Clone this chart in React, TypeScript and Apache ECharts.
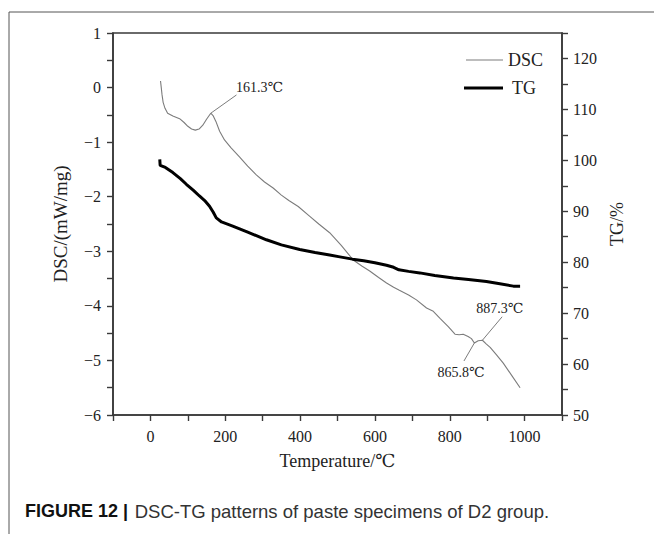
import React, { useEffect, useRef } from "react";
import * as echarts from "echarts";

// DSC curve (temperature ℃, mW/mg)
const dscTemp = [27, 29, 31, 34, 39, 46, 60, 78, 90, 100, 110, 120, 130, 140, 150, 161.3, 168, 175, 185, 198, 215, 238, 260, 283, 305, 328, 350, 370, 395, 426, 450, 479, 510, 542, 565, 586, 610, 631, 650, 664, 690, 711, 738, 756, 774, 796, 814, 825, 836, 849, 858, 865.8, 876, 887.3, 898, 908, 925, 943, 965, 988];
const dscValues = [0.12, 0.0, -0.13, -0.27, -0.38, -0.47, -0.52, -0.57, -0.64, -0.71, -0.76, -0.78, -0.76, -0.69, -0.58, -0.47, -0.52, -0.62, -0.8, -0.96, -1.1, -1.27, -1.44, -1.6, -1.73, -1.84, -1.97, -2.07, -2.18, -2.36, -2.5, -2.66, -2.89, -3.16, -3.27, -3.36, -3.48, -3.58, -3.66, -3.71, -3.8, -3.89, -4.04, -4.1, -4.23, -4.38, -4.52, -4.53, -4.52, -4.56, -4.6, -4.68, -4.64, -4.63, -4.7, -4.76, -4.9, -5.05, -5.27, -5.5];

// TG curve (temperature ℃, %)
const tgTemp = [25, 26, 40, 60, 80, 96, 115, 131, 145, 158, 168, 176, 190, 220, 260, 310, 350, 399, 440, 479, 510, 540, 570, 600, 631, 650, 664, 690, 720, 760, 810, 850, 898, 930, 970, 988];
const tgValues = [100.2, 99.0, 98.6, 97.6, 96.4, 95.3, 94.1, 93.0, 92.1, 91.0, 89.8, 88.7, 87.9, 87.1, 85.9, 84.4, 83.4, 82.5, 81.9, 81.4, 81.0, 80.6, 80.3, 79.9, 79.4, 79.0, 78.5, 78.2, 77.9, 77.4, 76.9, 76.6, 76.2, 75.8, 75.3, 75.3];

// Peak annotations (data coordinates on the DSC axis)
const annotationLabels = ["161.3℃", "887.3℃", "865.8℃"];
const annotationPeaks = [[161.3, -0.47], [887.3, -4.63], [865.8, -4.68]];
const annotationLeaderEnds = [[230, -0.135], [940, -4.2], [838, -5.01]];
const annotationTextCentres = [[292, 0.0], [934, -4.05], [830, -5.23]];

const serif = "'Liberation Serif', 'Times New Roman', 'DejaVu Serif', serif";
const sans = "'Liberation Sans', Arial, sans-serif";

export default function App() {
  const ref = useRef<HTMLDivElement>(null);
  useEffect(() => {
    if (!ref.current) return;
    const chart = echarts.init(ref.current, undefined, { renderer: "svg" });
    const axisLine = { show: true, onZero: false, lineStyle: { color: "#3a3a3a", width: 1.6 } };
    const axisTick = { show: true, inside: false, length: 6, lineStyle: { color: "#3a3a3a", width: 1.4 } };
    const labelStyle = { fontFamily: serif, fontSize: 16, color: "#222" };
    const nameStyle = { fontFamily: serif, fontSize: 18, color: "#222" };

    chart.setOption({
      animation: false,
      grid: {
        left: 113,
        top: 33,
        right: 92,
        bottom: 119,
        show: true,
        borderColor: "#3a3a3a",
        borderWidth: 1.6,
      },
      xAxis: {
        type: "value",
        min: -100,
        max: 1100,
        interval: 100,
        name: "Temperature/℃",
        nameLocation: "middle",
        nameGap: 37,
        nameTextStyle: nameStyle,
        axisLine,
        axisTick,
        axisLabel: {
          ...labelStyle,
          margin: 13,
          formatter: (v: number) => (v >= 0 && v <= 1000 && v % 200 === 0 ? String(v) : ""),
        },
        splitLine: { show: false },
      },
      yAxis: [
        {
          type: "value",
          position: "left",
          min: -6,
          max: 1,
          interval: 0.5,
          name: "DSC/(mW/mg)",
          nameLocation: "middle",
          nameGap: 43,
          nameRotate: 90,
          nameTextStyle: { ...nameStyle, fontSize: 19 },
          axisLine,
          axisTick,
          axisLabel: {
            ...labelStyle,
            margin: 12,
            formatter: (v: number) =>
              Number.isInteger(v) ? (v < 0 ? "\u2212" + Math.abs(v) : String(v)) : "",
          },
          splitLine: { show: false },
        },
        {
          type: "value",
          position: "right",
          min: 50,
          max: 125,
          interval: 5,
          name: "TG/%",
          nameLocation: "middle",
          nameGap: 41,
          nameRotate: 90,
          nameTextStyle: nameStyle,
          axisLine,
          axisTick,
          axisLabel: {
            ...labelStyle,
            margin: 11,
            formatter: (v: number) => (v % 10 === 0 && v <= 120 ? String(v) : ""),
          },
          splitLine: { show: false },
        },
      ],
      series: [
        {
          name: "DSC",
          type: "line",
          yAxisIndex: 0,
          showSymbol: false,
          symbol: "none",
          data: dscTemp.map((t, i) => [t, dscValues[i]]),
          lineStyle: { color: "#7c7c7c", width: 1.1 },
          markLine: {
            silent: true,
            symbol: "none",
            label: { show: false },
            lineStyle: { color: "#7c7c7c", width: 1, type: "solid" },
            data: annotationPeaks.map((p, i) => [
              { coord: p },
              { coord: annotationLeaderEnds[i] },
            ]),
          },
          markPoint: {
            silent: true,
            symbol: "circle",
            symbolSize: 0,
            data: annotationTextCentres.map((c, i) => ({
              coord: c,
              label: {
                show: true,
                position: "inside",
                formatter: annotationLabels[i],
                fontFamily: serif,
                fontSize: 14,
                color: "#222",
              },
            })),
          },
        },
        {
          name: "TG",
          type: "line",
          yAxisIndex: 1,
          showSymbol: false,
          symbol: "none",
          data: tgTemp.map((t, i) => [t, tgValues[i]]),
          lineStyle: { color: "#000", width: 3 },
        },
      ],
      graphic: [
        // outer frame lines
        { type: "line", shape: { x1: 9, y1: 12, x2: 654, y2: 12 }, style: { stroke: "#555", lineWidth: 1 } },
        { type: "line", shape: { x1: 9, y1: 12, x2: 9, y2: 534 }, style: { stroke: "#555", lineWidth: 1 } },
        // legend
        { type: "line", shape: { x1: 466, y1: 60, x2: 503, y2: 60 }, style: { stroke: "#7c7c7c", lineWidth: 1.1 } },
        { type: "text", x: 508, y: 60, style: { text: "DSC", font: "18px " + serif, fill: "#222", textVerticalAlign: "middle" } },
        { type: "line", shape: { x1: 464, y1: 88, x2: 503, y2: 88 }, style: { stroke: "#000", lineWidth: 3 } },
        { type: "text", x: 512, y: 88, style: { text: "TG", font: "18px " + serif, fill: "#222", textVerticalAlign: "middle" } },
        // caption
        {
          type: "text",
          x: 25,
          y: 511,
          style: {
            text: "{b|FIGURE 12 |}  {n|DSC-TG patterns of paste specimens of D2 group.}",
            textVerticalAlign: "middle",
            rich: {
              b: { fontFamily: sans, fontSize: 18, fontWeight: "bold", fill: "#111" },
              n: { fontFamily: sans, fontSize: 18.5, fill: "#333" },
            },
          },
        },
      ],
    });
    return () => chart.dispose();
  }, []);
  return (
    <div
      ref={ref}
      style={{ position: "fixed", left: 0, top: 0, width: 654, height: 534, background: "#fff" }}
    />
  );
}
